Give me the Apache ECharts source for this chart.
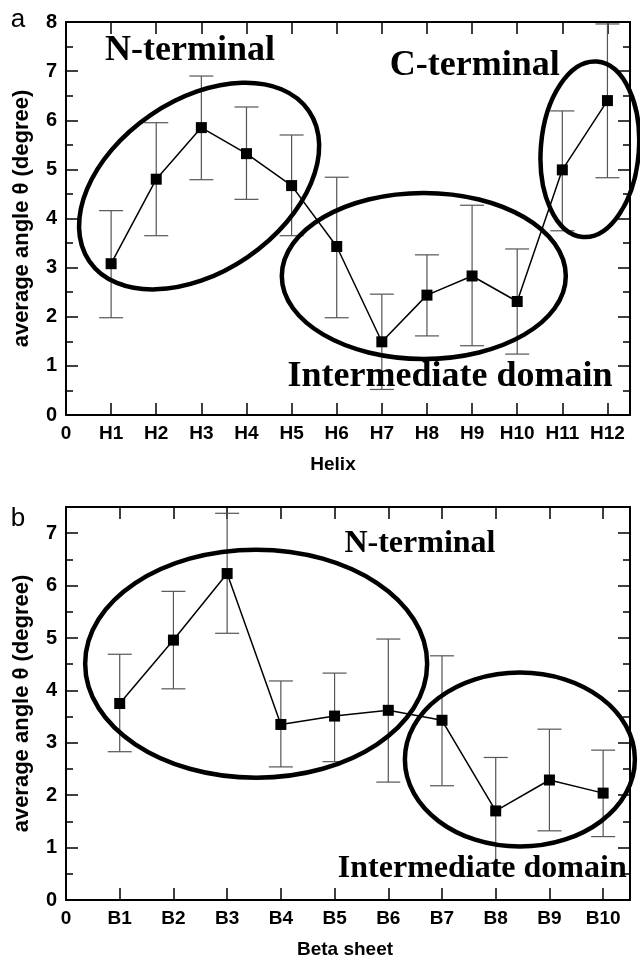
<!DOCTYPE html>
<html>
<head>
<meta charset="utf-8">
<script src="https://cdn.jsdelivr.net/npm/echarts@6/dist/echarts.min.js"></script>
<style>
html,body{margin:0;padding:0;background:#fff;}
#chart{width:640px;height:960px;}
</style>
</head>
<body>
<div id="chart"></div>
<script>
// ---- Data ----
const helixLabels = ['0','H1','H2','H3','H4','H5','H6','H7','H8','H9','H10','H11','H12'];
const helixMean = [3.08, 4.80, 5.85, 5.32, 4.67, 3.43, 1.49, 2.44, 2.83, 2.31, 4.99, 6.40];
const helixLow  = [1.98, 3.65, 4.79, 4.39, 3.65, 1.98, 0.52, 1.61, 1.41, 1.24, 3.75, 4.83];
const helixHigh = [4.16, 5.95, 6.90, 6.27, 5.70, 4.84, 2.46, 3.26, 4.27, 3.38, 6.19, 7.96];

const betaLabels = ['0','B1','B2','B3','B4','B5','B6','B7','B8','B9','B10'];
const betaMean = [3.75, 4.96, 6.23, 3.35, 3.51, 3.62, 3.43, 1.70, 2.29, 2.04];
const betaLow  = [2.83, 4.03, 5.09, 2.54, 2.64, 2.25, 2.18, 0.70, 1.32, 1.21];
const betaHigh = [4.69, 5.89, 7.38, 4.18, 4.33, 4.98, 4.66, 2.72, 3.26, 2.86];

const yTitle = 'average angle \u03b8 (degree)';

// ---- Annotation layout (data-space centres, pixel radii) ----
const ellipsesA = [
  {c:[2.95, 4.66], rx:133, ry:86, rot:0.60},
  {c:[7.93, 2.83], rx:142, ry:83, rot:0},
  {c:[11.61, 5.41], rx:49, ry:88, rot:-0.08}
];
const ellipsesB = [
  {c:[3.54, 4.51], rx:171, ry:114, rot:0},
  {c:[8.45, 2.68], rx:115, ry:87, rot:0}
];
const textsA = [
  {t:'N-terminal', c:[2.75, 7.42], fs:36},
  {t:'C-terminal', c:[9.06, 7.11], fs:36},
  {t:'Intermediate domain', c:[8.51, 0.78], fs:36}
];
const textsB = [
  {t:'N-terminal', c:[6.59, 6.80], fs:32},
  {t:'Intermediate domain', c:[7.75, 0.60], fs:32}
];

const chart = echarts.init(document.getElementById('chart'), null, {renderer:'canvas'});
const FONT = 'Liberation Sans';
const SERIF = 'Liberation Serif';

function xAxes(gridIndex, max, labels, name, shift) {
  return [{
    type:'value', gridIndex, min:0, max, interval:1, position:'bottom',
    axisLine:{show:true, onZero:false, lineStyle:{color:'#000', width:2}},
    axisTick:{show:true, inside:true, length:12, lineStyle:{color:'#000', width:1.5}},
    axisLabel:{show:true, margin:9, color:'#000', fontFamily:FONT, fontWeight:'bold', fontSize:19,
      showMaxLabel:false,
      formatter:v => (Number.isInteger(v) && labels[v] !== undefined) ? labels[v] : ''},
    splitLine:{show:false},
    name, nameLocation:'middle', nameGap:40,
    nameTextStyle:{color:'#000', fontFamily:FONT, fontWeight:'bold', fontSize:19,
      padding: shift > 0 ? [0, shift, 0, 0] : [0, 0, 0, -shift]}
  },{
    type:'value', gridIndex, min:0, max, interval:1, position:'top',
    axisLine:{show:true, onZero:false, lineStyle:{color:'#000', width:2}},
    axisTick:{show:true, inside:true, length:12, lineStyle:{color:'#000', width:1.5}},
    axisLabel:{show:false}, splitLine:{show:false}
  }];
}
function yAxes(gridIndex, max) {
  return [{
    type:'value', gridIndex, min:0, max, interval:1, position:'left',
    axisLine:{show:true, onZero:false, lineStyle:{color:'#000', width:2}},
    axisTick:{show:true, inside:true, length:12, lineStyle:{color:'#000', width:1.5}},
    minorTick:{show:true, splitNumber:2, length:7, lineStyle:{color:'#000', width:1.5}},
    axisLabel:{show:true, margin:9, color:'#000', fontFamily:FONT, fontWeight:'bold', fontSize:20, showMaxLabel: max % 1 === 0},
    splitLine:{show:false}, minorSplitLine:{show:false},
    name: yTitle, nameLocation:'middle', nameGap:33, nameRotate:90,
    nameTextStyle:{color:'#000', fontFamily:FONT, fontWeight:'bold', fontSize:22}
  },{
    type:'value', gridIndex, min:0, max, interval:1, position:'right',
    axisLine:{show:true, onZero:false, lineStyle:{color:'#000', width:2}},
    axisTick:{show:true, inside:true, length:12, lineStyle:{color:'#000', width:1.5}},
    minorTick:{show:true, splitNumber:2, length:7, lineStyle:{color:'#000', width:1.5}},
    axisLabel:{show:false}, splitLine:{show:false}, minorSplitLine:{show:false}
  }];
}

function errData(mean, low, high) {
  return mean.map((m, i) => [i + 1, low[i], high[i]]);
}
function errSeries(xi, yi, data) {
  return {
    type:'custom', xAxisIndex:xi, yAxisIndex:yi, data, z:2, silent:true,
    renderItem:(params, api) => {
      const x = api.value(0);
      const lo = api.coord([x, api.value(1)]);
      const hi = api.coord([x, api.value(2)]);
      const w = 12;
      const st = {stroke:'#555', lineWidth:1.2};
      return {type:'group', children:[
        {type:'line', shape:{x1:lo[0], y1:lo[1], x2:hi[0], y2:hi[1]}, style:st},
        {type:'line', shape:{x1:lo[0]-w, y1:lo[1], x2:lo[0]+w, y2:lo[1]}, style:st},
        {type:'line', shape:{x1:hi[0]-w, y1:hi[1], x2:hi[0]+w, y2:hi[1]}, style:st}
      ]};
    },
    encode:{x:0, y:[1,2]}
  };
}
function lineSeries(xi, yi, mean) {
  return {
    type:'line', xAxisIndex:xi, yAxisIndex:yi, z:3,
    data: mean.map((m, i) => [i + 1, m]),
    symbol:'rect', symbolSize:11, showSymbol:true,
    itemStyle:{color:'#000'}, lineStyle:{color:'#000', width:1.5},
    animation:false, silent:true
  };
}

const xa = xAxes(0, 12.5, helixLabels, 'Helix', 30);
const xb = xAxes(1, 10.5, betaLabels, 'Beta sheet', 6);
const ya = yAxes(0, 8);
const yb = yAxes(1, 7.5);

chart.setOption({
  animation:false,
  backgroundColor:'#fff',
  grid:[
    {left:66, right:10, top:22, height:393},
    {left:66, right:10, top:507, height:394}
  ],
  xAxis:[xa[0], xa[1], xb[0], xb[1]],
  yAxis:[ya[0], ya[1], yb[0], yb[1]],
  series:[
    errSeries(0, 0, errData(helixMean, helixLow, helixHigh)),
    lineSeries(0, 0, helixMean),
    errSeries(2, 2, errData(betaMean, betaLow, betaHigh)),
    lineSeries(2, 2, betaMean)
  ]
});

function buildGraphics() {
  const g = [];
  const addSet = (ells, texts, xi, yi) => {
    ells.forEach(e => {
      const p = chart.convertToPixel({xAxisIndex:xi, yAxisIndex:yi}, e.c);
      g.push({type:'ellipse', x:p[0], y:p[1], rotation:e.rot, z:10,
        shape:{cx:0, cy:0, rx:e.rx, ry:e.ry},
        style:{fill:null, stroke:'#000', lineWidth:4.5}});
    });
    texts.forEach(t => {
      const p = chart.convertToPixel({xAxisIndex:xi, yAxisIndex:yi}, t.c);
      g.push({type:'text', x:p[0], y:p[1], z:11,
        style:{text:t.t, fill:'#000', font:'bold ' + t.fs + 'px "' + SERIF + '"',
          textAlign:'center', textVerticalAlign:'middle'}});
    });
  };
  addSet(ellipsesA, textsA, 0, 0);
  addSet(ellipsesB, textsB, 2, 2);
  g.push({type:'text', x:18, y:20, z:11, style:{text:'a', fill:'#000', font:'26px "' + FONT + '"', textAlign:'center', textVerticalAlign:'middle'}});
  g.push({type:'text', x:18, y:519, z:11, style:{text:'b', fill:'#000', font:'26px "' + FONT + '"', textAlign:'center', textVerticalAlign:'middle'}});
  return g;
}
chart.setOption({graphic: buildGraphics()});
</script>
</body>
</html>
